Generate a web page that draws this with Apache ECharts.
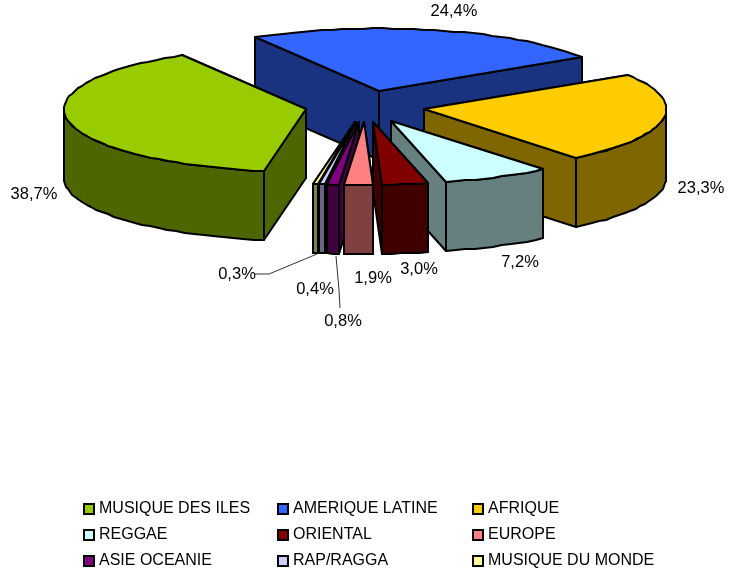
<!DOCTYPE html>
<html>
<head>
<meta charset="utf-8">
<style>html,body{margin:0;padding:0;background:#fff}#source{width:729px;height:573px}</style>
<script src="https://cdn.jsdelivr.net/npm/echarts@6/dist/echarts.min.js"></script>
</head>
<body>
<div id="source"></div>
<script>
var categories = ['MUSIQUE DES ILES', 'AMERIQUE LATINE', 'AFRIQUE', 'REGGAE', 'ORIENTAL', 'EUROPE', 'ASIE OCEANIE', 'RAP/RAGGA', 'MUSIQUE DU MONDE'];
var shares = [38.7, 24.4, 23.3, 7.2, 3.0, 1.9, 0.8, 0.4, 0.3];
var topColors = ['#99CC00', '#3366FF', '#FFCC00', '#CCFFFF', '#800000', '#FF8080', '#800080', '#CCCCFF', '#FFFF99'];
var sideColors = ['#4D6600', '#1A3380', '#806600', '#668080', '#400000', '#804040', '#400040', '#666680', '#80804D'];
// label centres, in page pixels
var labelX = [34, 454, 701, 520, 419, 373, 343, 315, 237];
var labelY = [194, 11, 188, 262, 269, 278, 321, 289, 274];
var legendColumns = [[0, 3, 6], [1, 4, 7], [2, 5, 8]];
var legendLeft = [83, 277, 472];

var pie = { cx: 365, cy: 106.5, r: 242, tilt: 0.26, depth: 69, explode: 60, start: 190 };
var rad = Math.PI / 180;

function ring(deg, radius, ox, oy) {
  return [Math.round(ox + radius * Math.sin(deg * rad)), Math.round(oy - radius * pie.tilt * Math.cos(deg * rad))];
}
function arc(a, b, ox, oy) {
  var pts = [];
  var n = Math.max(1, Math.ceil((b - a) / 2.5));
  for (var i = 0; i <= n; i++) pts.push(ring(a + (b - a) * i / n, pie.r, ox, oy));
  return pts;
}
function down(pts) {
  return pts.map(function (p) { return [p[0], p[1] + pie.depth]; });
}
function face(pts, fill) {
  return {
    type: 'polygon',
    shape: { points: pts },
    style: { fill: fill, stroke: '#000', lineWidth: 2, lineJoin: 'round' }
  };
}

function renderSlice(params, api) {
  var idx = order[params.seriesIndex];
  var a = (pie.start + api.value(0) * 3.6) % 360;
  var b = a + api.value(1) * 3.6;
  var mid = (a + b) / 2;
  var ox = pie.cx + pie.explode * Math.sin(mid * rad);
  var oy = pie.cy - pie.explode * pie.tilt * Math.cos(mid * rad);
  var apex = [Math.round(ox), Math.round(oy)];
  var kids = [];

  // radial walls, back one first
  var edges = [a, b].sort(function (p, q) { return Math.cos(q * rad) - Math.cos(p * rad); });
  edges.forEach(function (e) {
    var line = [apex, ring(e, pie.r, ox, oy)];
    kids.push(face(line.concat(down(line).reverse()), sideColors[idx]));
  });

  // outer wall, only the part turned to the viewer
  var from = Math.max(a, 90), to = Math.min(b, 270);
  if (to > from) {
    var rim = arc(from, to, ox, oy);
    kids.push(face(rim.concat(down(rim).reverse()), sideColors[idx]));
  }

  kids.push(face([apex].concat(arc(a, b, ox, oy)), topColors[idx]));
  return { type: 'group', children: kids };
}

function labelItem(params, api) {
  return {
    type: 'text',
    style: {
      text: api.value(2).toFixed(1).replace('.', ',') + '%',
      x: api.value(0),
      y: api.value(1),
      fill: '#000',
      font: '16.5px "Liberation Sans", Arial, sans-serif',
      textAlign: 'center',
      textVerticalAlign: 'middle'
    }
  };
}

// back slices first, so the front ones paint over them
var before = [];
shares.reduce(function (sum, v, k) { before[k] = sum; return sum + v; }, 0);
var order = shares.map(function (v, k) { return k; }).sort(function (p, q) {
  var mp = pie.start + (before[p] + shares[p] / 2) * 3.6;
  var mq = pie.start + (before[q] + shares[q] / 2) * 3.6;
  return Math.cos(mq * rad) - Math.cos(mp * rad);
});

var series = order.map(function (k) {
  return {
    type: 'custom',
    name: categories[k],
    coordinateSystem: 'none',
    z: 2,
    silent: true,
    itemStyle: { color: topColors[k] },
    renderItem: renderSlice,
    data: [[before[k], shares[k]]]
  };
});

// labels stay in their own series, on top of the slices
series.push({
  type: 'custom',
  name: 'labels',
  coordinateSystem: 'none',
  z: 3,
  silent: true,
  renderItem: labelItem,
  data: shares.map(function (v, k) { return [labelX[k], labelY[k], v]; })
});

var legends = legendColumns.map(function (col, c) {
  return {
    orient: 'vertical',
    left: legendLeft[c],
    top: 501,
    padding: 0,
    selectedMode: false,
    icon: 'rect',
    itemWidth: 10,
    itemHeight: 10,
    itemGap: 10,
    itemStyle: { borderColor: '#000', borderWidth: 2 },
    textStyle: { color: '#000', fontFamily: '"Liberation Sans", Arial, sans-serif', fontSize: 16, lineHeight: 16 },
    data: col.map(function (k) { return categories[k]; })
  };
});

var myChart = echarts.init(document.getElementById('source'), null, { renderer: 'canvas' });
myChart.setOption({
  animation: false,
  backgroundColor: '#fff',
  legend: legends,
  graphic: [
    { type: 'polyline', z: 4, silent: true, shape: { points: [[255, 274], [269, 274], [317, 254]] }, style: { stroke: '#333', lineWidth: 1, fill: null } },
    { type: 'polyline', z: 4, silent: true, shape: { points: [[336, 256], [339, 290], [340, 308]] }, style: { stroke: '#333', lineWidth: 1, fill: null } }
  ],
  series: series
});
</script>
</body>
</html>
